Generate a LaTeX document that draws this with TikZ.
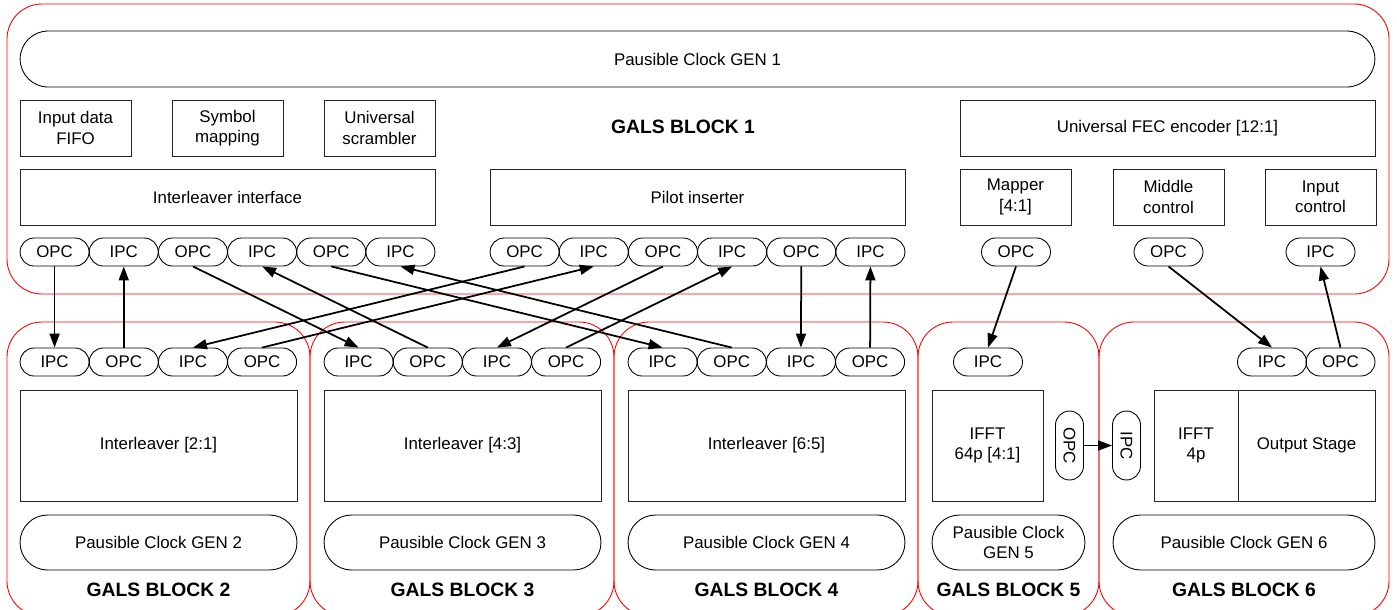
\documentclass[tikz,border=0pt]{standalone}
\usepackage{fontspec}
\setmainfont{Liberation Sans}
\usetikzlibrary{shapes.misc,arrows.meta}

\begin{document}
\begin{tikzpicture}[x=0.02cm,y=-0.02cm,>={Triangle[length=2.8mm,width=2mm]},
		font=\fontsize{9.6}{11.5}\selectfont,
		gals/.style={draw=red,line width=0.5pt,rounded corners=0.7cm},
		unit/.style={draw=black!85,line width=0.5pt,align=center,inner sep=0pt},
		port/.style={draw,rounded rectangle,line width=0.5pt,inner sep=0pt,
			minimum width=1.38cm,minimum height=0.56cm},
		clk/.style={draw,rounded rectangle,line width=0.5pt,inner sep=0pt,align=center,
			minimum height=1.1cm},
		title/.style={font=\fontsize{11}{13}\selectfont\bfseries},
		link/.style={->,line width=1pt}]
		\useasboundingbox (0,0) rectangle (1397,609);
		\clip (0,0) rectangle (1397,609);
		% block outlines
		\draw[gals] (7,4) rectangle (1389,294);
		\foreach \a/\b in {7/310,310/614,614/918,918/1099,1099/1389}
		\draw[gals] (\a,322) rectangle (\b,616);
		
		% GALS block 1
		\node[clk,minimum width=27.1cm,minimum height=1.12cm] (gen1) at (697.5,59) {Pausible Clock GEN 1};
		\node[unit,minimum width=2.22cm,minimum height=1.12cm] (fifo) at (75.5,128) {Input data\\FIFO};
		\node[unit,minimum width=2.22cm,minimum height=1.12cm] (symb) at (227.5,128) {Symbol\\mapping};
		\node[unit,minimum width=2.22cm,minimum height=1.12cm] (scr) at (379.5,128) {Universal\\scrambler};
		\node[title] (gb1) at (683,127) {GALS BLOCK 1};
		\node[unit,minimum width=8.3cm,minimum height=1.12cm] (fec) at (1167.5,128) {Universal FEC encoder [12:1]};
		\node[unit,minimum width=8.3cm,minimum height=1.12cm] (ilif) at (227.5,197) {Interleaver interface};
		\node[unit,minimum width=8.3cm,minimum height=1.12cm] (pilot) at (697.5,197) {Pilot inserter};
		\node[unit,minimum width=2.22cm,minimum height=1.12cm] (map) at (1015.5,197) {Mapper\\{[4:1]}};
		\node[unit,minimum width=2.22cm,minimum height=1.12cm] (mid) at (1168.5,197) {Middle\\control};
		\node[unit,minimum width=2.22cm,minimum height=1.12cm] (inc) at (1320.5,197) {Input\\control};
		\foreach \L [count=\i] in {OPC,IPC,OPC,IPC,OPC,IPC}
		{\node[port] (ii\i) at ({20+69.17*(\i-0.5)},252) {\L};
			\node[port] (pi\i) at ({490+69.17*(\i-0.5)},252) {\L};}
		\node[port] (mapo) at (1016,252) {OPC};
		\node[port] (mido) at (1168.5,252) {OPC};
		\node[port] (inci) at (1320.5,252) {IPC};
		
		% GALS blocks 2 to 4
		\foreach \x/\r [count=\k from 2] in {20/2:1,324/4:3,628/6:5}
		{\foreach \L [count=\i] in {IPC,OPC,IPC,OPC}
			\node[port] (b\k\i) at ({\x+69.17*(\i-0.5)},362) {\L};
			\node[unit,minimum width=5.54cm,minimum height=2.22cm] (lv\k) at ({\x+138.5},445.5) {Interleaver [\r]};
			\node[clk,minimum width=5.54cm] (gen\k) at ({\x+138.5},542.5) {Pausible Clock GEN \k};
			\node[title] (gb\k) at ({\x+138.5},590) {GALS BLOCK \k};}
		
		% GALS block 5
		\node[port] (b51) at (988,362) {IPC};
		\node[unit,minimum width=2.22cm,minimum height=2.22cm] (ifft64) at (987.5,445.5) {IFFT\\64p {[4:1]}};
		\node[port,rotate=-90] (b5o) at (1069.5,445.5) {OPC};
		\node[clk,minimum width=3.06cm] (gen5) at (1008.5,542.5) {Pausible Clock\\GEN 5};
		\node[title] (gb5) at (1008.5,590) {GALS BLOCK 5};
		
		% GALS block 6
		\node[port,rotate=-90] (b6i) at (1126.5,445.5) {IPC};
		\node[port] (b61) at (1272,362) {IPC};
		\node[port] (b62) at (1340.5,362) {OPC};
		\node[unit,minimum width=1.68cm,minimum height=2.22cm] (ifft4) at (1196,445.5) {IFFT\\4p};
		\node[unit,minimum width=2.74cm,minimum height=2.22cm] (outst) at (1306.5,445.5) {Output Stage};
		\node[clk,minimum width=5.24cm] (gen6) at (1244,542.5) {Pausible Clock GEN 6};
		\node[title] (gb6) at (1244,590) {GALS BLOCK 6};
		
		% handshake links
		\foreach \s/\d in {ii1/b21,ii3/b31,ii5/b41,pi1/b23,pi3/b33,pi5/b43,mapo/b51,mido/b61}
		\draw[link] (\s.south) -- (\d.north);
		\foreach \s/\d in {b22/ii2,b32/ii4,b42/ii6,b24/pi2,b34/pi4,b44/pi6,b62/inci}
		\draw[link] (\s.north) -- (\d.south);
		\draw[link] (b5o.north) -- (b6i.south);
\end{tikzpicture}
\end{document}
